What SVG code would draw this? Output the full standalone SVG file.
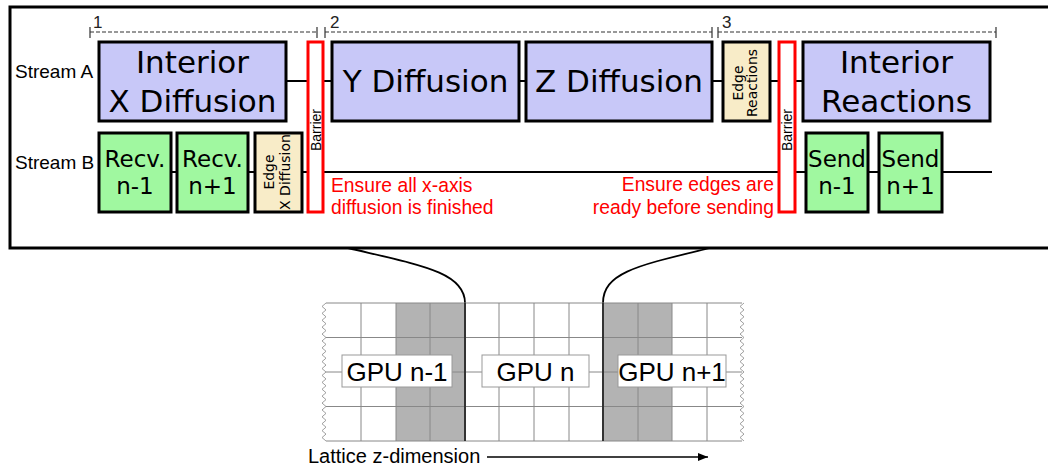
<svg xmlns="http://www.w3.org/2000/svg" width="1048" height="466" viewBox="0 0 1048 466">
<defs>
<style>
.box{stroke:#000;stroke-width:3}
.interior{fill:#c8c8f8}
.comm{fill:#a0f8a0}
.edge{fill:#f8ecc8}
.barrier{fill:#fff;stroke:#f00;stroke-width:3}
.big{font-family:"DejaVu Sans",sans-serif;font-size:31px;fill:#000;text-anchor:middle}
.mid{font-family:"DejaVu Sans",sans-serif;font-size:23px;fill:#000;text-anchor:middle}
.small{font-family:"DejaVu Sans",sans-serif;font-size:14px;fill:#000;text-anchor:middle}
.bar{font-family:"Liberation Sans",Arial,sans-serif;font-size:14px;fill:#000;text-anchor:middle}
.lbl{font-family:"Liberation Sans",Arial,sans-serif;font-size:19px;fill:#000}
.num{font-family:"Liberation Sans",Arial,sans-serif;font-size:17px;fill:#222}
.note{font-family:"Liberation Sans",Arial,sans-serif;font-size:19.3px;fill:#f00}
.dim{fill:none;stroke:#333;stroke-width:1.2;stroke-dasharray:4 2}
.tick{stroke:#333;stroke-width:1.2}
.conn{stroke:#000;stroke-width:2;fill:none}
.grid{stroke:#888;stroke-width:1;fill:none}
.gpu{fill:#fff;stroke:#999;stroke-width:1}
.gputxt{font-family:"Liberation Sans",Arial,sans-serif;font-size:26px;fill:#000;text-anchor:middle}
</style>
<marker id="arrow" markerUnits="userSpaceOnUse" markerWidth="10" markerHeight="8" refX="10" refY="4" orient="auto">
<path d="M0 0 L10 4 L0 8 z" fill="#000"/>
</marker>
<path id="zig" d="M0 0l-4 3.45l4 3.45l-4 3.45l4 3.45l-4 3.45l4 3.45l-4 3.45l4 3.45l-4 3.45l4 3.45l-4 3.45l4 3.45l-4 3.45l4 3.45l-4 3.45l4 3.45l-4 3.45l4 3.45l-4 3.45l4 3.45l-4 3.45l4 3.45l-4 3.45l4 3.45l-4 3.45l4 3.45l-4 3.45l4 3.45l-4 3.45l4 3.45l-4 3.45l4 3.45l-4 3.45l4 3.45l-4 3.45l4 3.45l-4 3.45l4 3.45l-4 3.45l4 3.45" fill="none" stroke="#888" stroke-width="0.8"/>
</defs>

<rect width="1048" height="466" fill="#fff"/>

<!-- frame -->
<rect x="10" y="7" width="1045" height="241" fill="none" stroke="#000" stroke-width="3"/>

<!-- dimension lines -->
<g id="dimensions">
<path class="dim" d="M90 32H317M325 32H712M718 32H996"/>
<path class="tick" d="M90 27V38M317 27V38M325 27V38M712 27V38M718 27V38M996 27V38"/>
<text class="num" x="93" y="28">1</text>
<text class="num" x="330" y="28">2</text>
<text class="num" x="722" y="28">3</text>
</g>

<text class="lbl" x="15" y="78">Stream A</text>
<text class="lbl" x="15" y="169">Stream B</text>

<!-- connectors -->
<g id="connectors">
<path class="conn" d="M98 81H991"/>
<path class="conn" d="M98 172H992"/>
<path d="M348 248C420 265 465 272 465 303" fill="none" stroke="#000" stroke-width="1.8"/>
<path d="M710 248C640 265 603 272 603 303" fill="none" stroke="#000" stroke-width="1.8"/>
</g>

<!-- Stream A nodes -->
<g id="interior-x-diffusion">
<rect class="box interior" x="99" y="42" width="187" height="79"/>
<text class="big" x="192.5" y="73">Interior</text>
<text class="big" x="192.5" y="112">X Diffusion</text>
</g>
<g id="barrier-1">
<rect class="barrier" x="308" y="42" width="15" height="170"/>
<text class="bar" transform="translate(315.5,130) rotate(-90)" x="0" y="5">Barrier</text>
</g>
<g id="y-diffusion">
<rect class="box interior" x="332" y="42" width="187" height="79"/>
<text class="big" x="425.5" y="92">Y Diffusion</text>
</g>
<g id="z-diffusion">
<rect class="box interior" x="526" y="42" width="186" height="79"/>
<text class="big" x="619" y="92">Z Diffusion</text>
</g>
<g id="edge-reactions">
<rect class="box edge" x="723" y="42" width="47" height="79"/>
<g transform="translate(746.5,83) rotate(-90)">
<text class="small" x="0" y="-4">Edge</text>
<text class="small" x="0" y="10">Reactions</text>
</g>
</g>
<g id="barrier-2">
<rect class="barrier" x="779" y="42" width="16" height="170"/>
<text class="bar" transform="translate(787,130) rotate(-90)" x="0" y="5">Barrier</text>
</g>
<g id="interior-reactions">
<rect class="box interior" x="803" y="42" width="187" height="79"/>
<text class="big" x="896.5" y="73">Interior</text>
<text class="big" x="896.5" y="112">Reactions</text>
</g>

<!-- Stream B nodes -->
<g id="recv-n-1">
<rect class="box comm" x="99" y="133" width="72" height="79"/>
<text class="mid" x="135" y="167">Recv.</text>
<text class="mid" x="135" y="194">n-1</text>
</g>
<g id="recv-n+1">
<rect class="box comm" x="177" y="133" width="71" height="79"/>
<text class="mid" x="212.5" y="167">Recv.</text>
<text class="mid" x="212.5" y="194">n+1</text>
</g>
<g id="edge-x-diffusion">
<rect class="box edge" x="255" y="133" width="47" height="79"/>
<g transform="translate(278.5,172) rotate(-90)">
<text class="small" x="0" y="-4.5">Edge</text>
<text class="small" x="0" y="11.5">X Diffusion</text>
</g>
</g>
<g id="send-n-1">
<rect class="box comm" x="806" y="133" width="62" height="79"/>
<text class="mid" x="837" y="167">Send</text>
<text class="mid" x="837" y="194">n-1</text>
</g>
<g id="send-n+1">
<rect class="box comm" x="879" y="133" width="63" height="79"/>
<text class="mid" x="910.5" y="167">Send</text>
<text class="mid" x="910.5" y="194">n+1</text>
</g>

<!-- notes -->
<g id="notes">
<text class="note" x="331" y="192">Ensure all x-axis</text>
<text class="note" x="331" y="214">diffusion is finished</text>
<text class="note" x="774" y="191" text-anchor="end">Ensure edges are</text>
<text class="note" x="774" y="214" text-anchor="end">ready before sending</text>
</g>

<!-- lattice -->
<g id="lattice">
<rect x="396" y="303" width="69" height="138" fill="#b3b3b3"/>
<rect x="603" y="303" width="69" height="138" fill="#b3b3b3"/>
<path class="grid" d="M326 303H742M326 337.5H742M326 372H742M326 406.5H742M326 441H742M361 303V441M396 303V441M430 303V441M499 303V441M534 303V441M569 303V441M638 303V441M672 303V441M707 303V441"/>
<use href="#zig" x="326" y="303"/>
<use href="#zig" x="744" y="303"/>
<path d="M465 303V441M603 303V441" stroke="#333" stroke-width="2" fill="none"/>
</g>
<g id="gpu-n-1">
<rect class="gpu" x="342" y="355" width="110" height="32"/>
<text class="gputxt" x="397" y="380.5">GPU n-1</text>
</g>
<g id="gpu-n">
<rect class="gpu" x="482" y="355" width="107" height="32"/>
<text class="gputxt" x="535.5" y="380.5">GPU n</text>
</g>
<g id="gpu-n+1">
<rect class="gpu" x="618" y="355" width="108" height="32"/>
<text class="gputxt" x="672" y="380.5">GPU n+1</text>
</g>

<g id="axis">
<text class="lbl" x="308" y="463" style="font-size:20px">Lattice z-dimension</text>
<path d="M487 457H708" stroke="#000" stroke-width="1.5" marker-end="url(#arrow)"/>
</g>
</svg>
